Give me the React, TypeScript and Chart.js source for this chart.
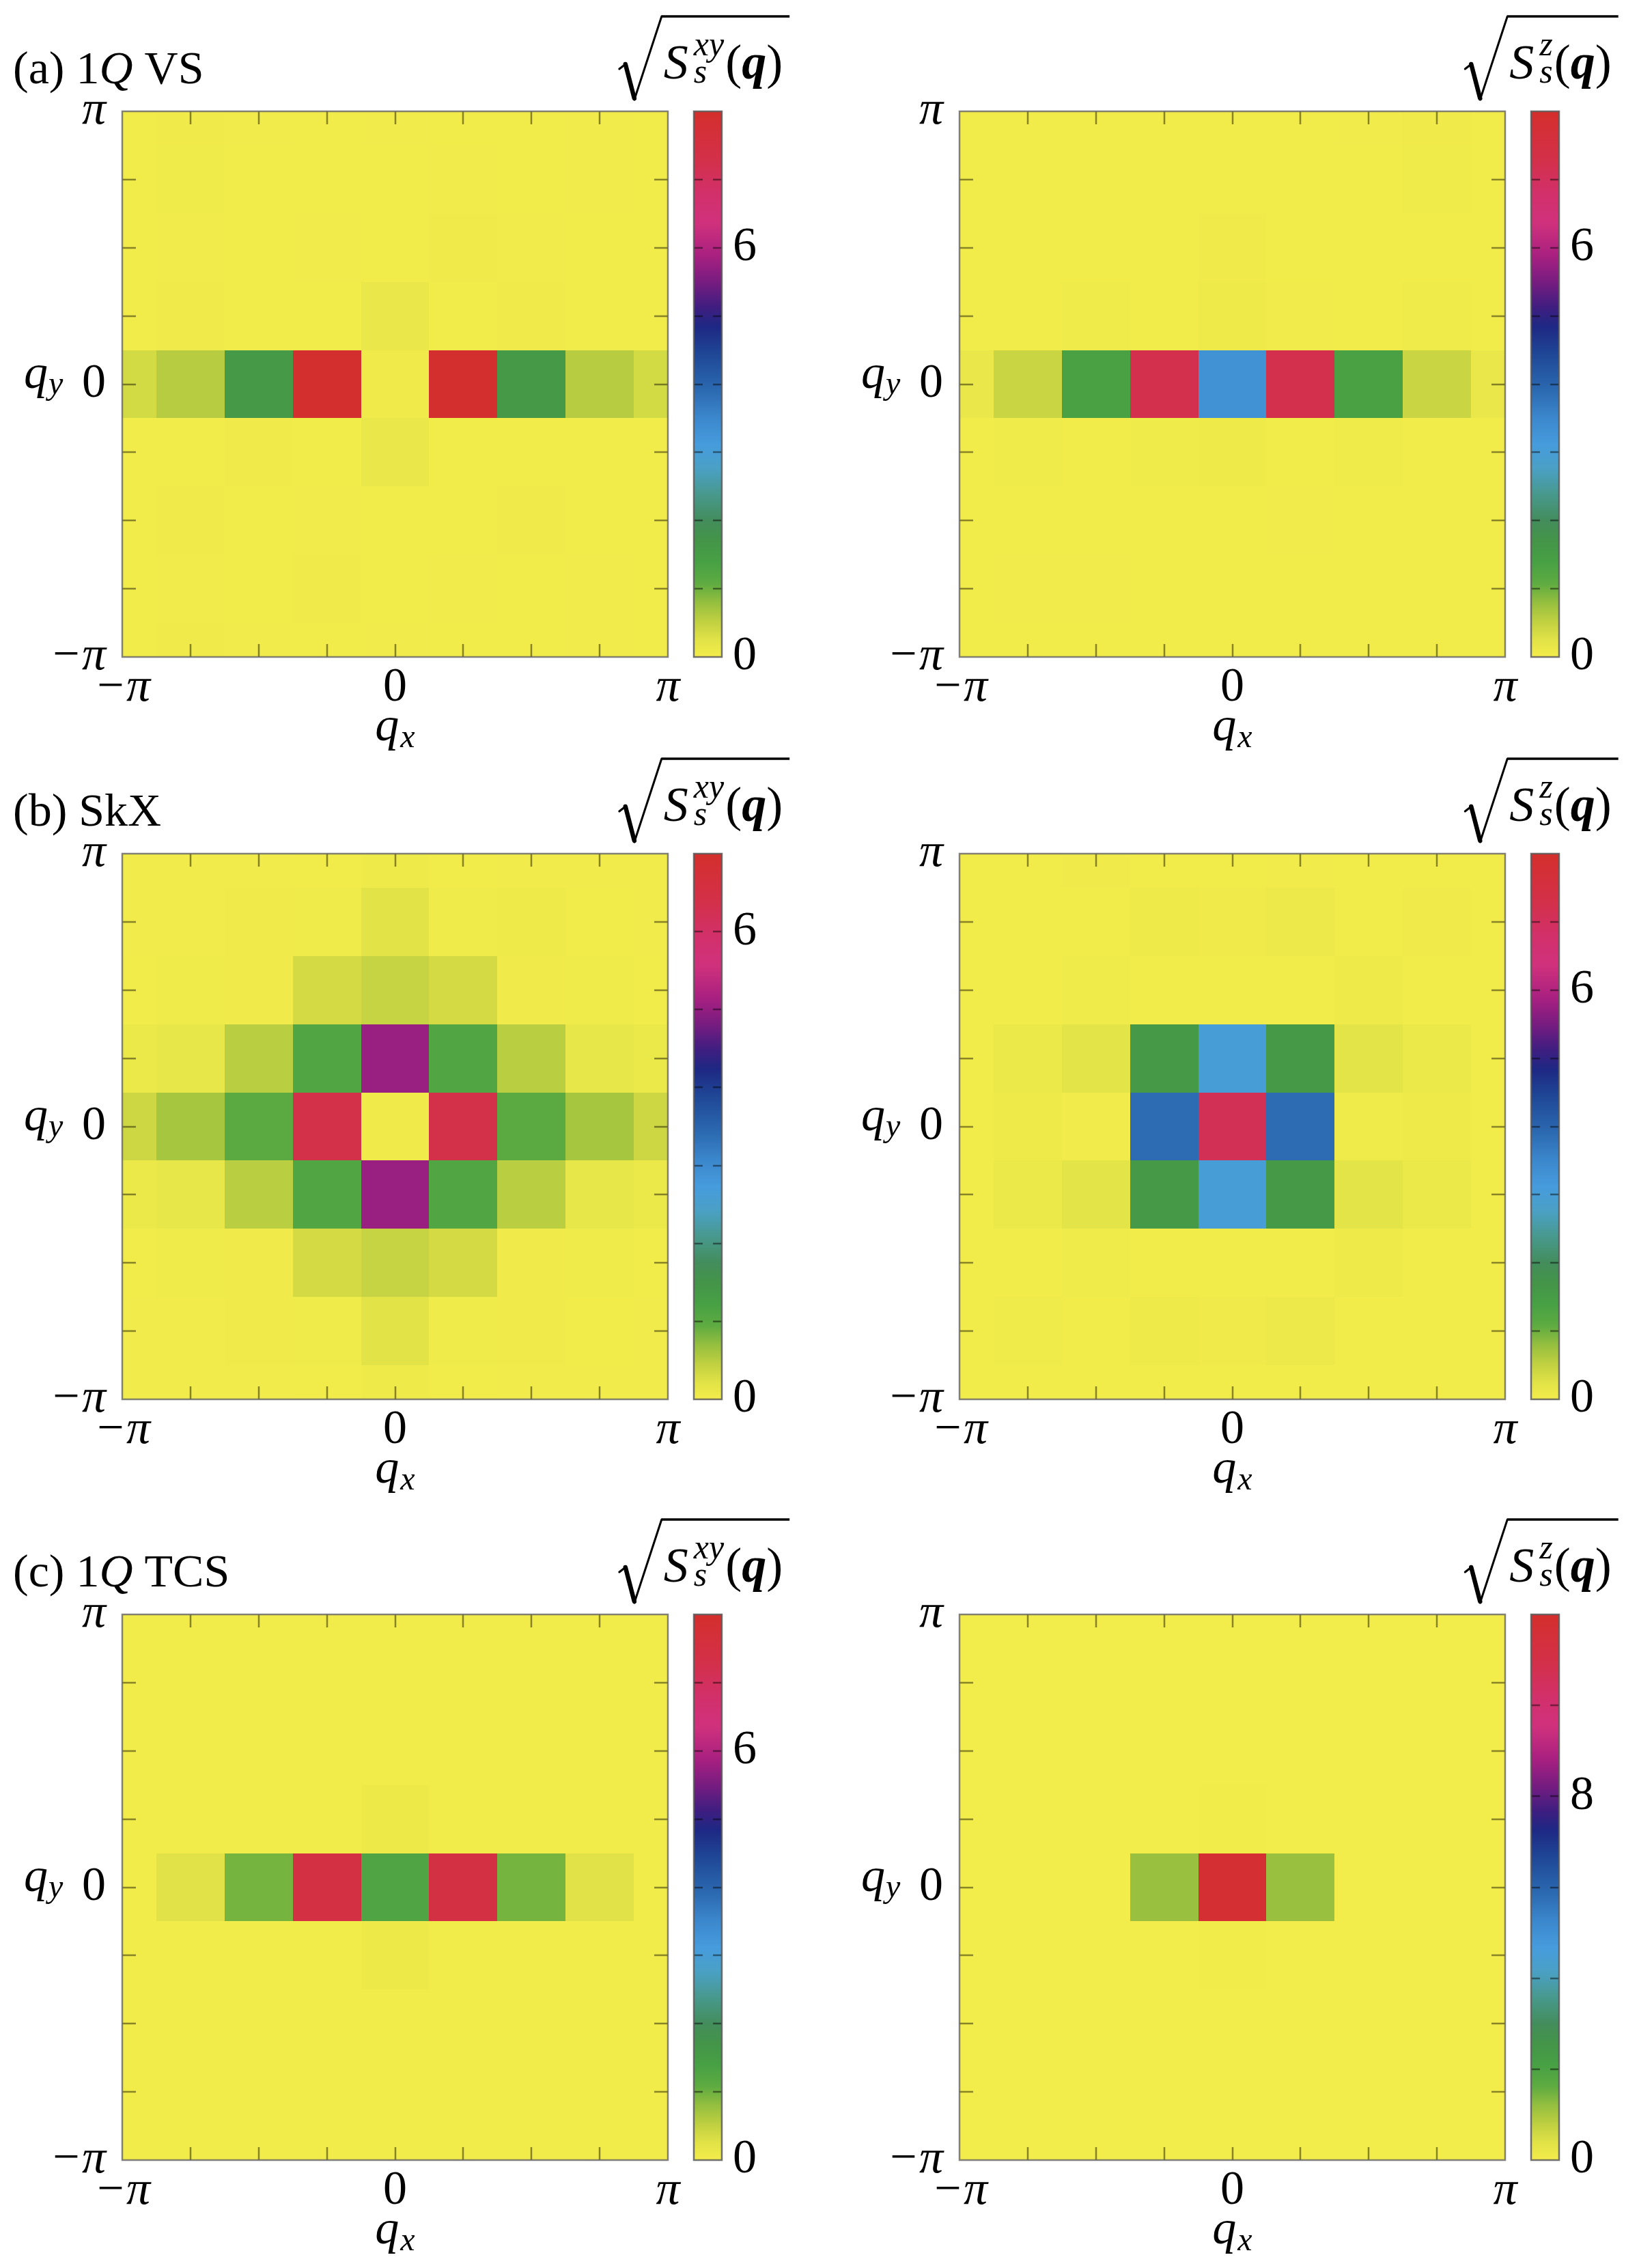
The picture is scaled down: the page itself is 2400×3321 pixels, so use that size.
import React, { useEffect, useRef } from 'react';
import { Chart, registerables } from 'chart.js';

Chart.register(...registerables);

const PI = Math.PI;
const FONT = '"Liberation Serif", "Times New Roman", serif';

// cell centres and tick positions (q = -pi ... pi in steps of pi/4)
const Q_GRID = [-PI, -0.75 * PI, -0.5 * PI, -0.25 * PI, 0, 0.25 * PI, 0.5 * PI, 0.75 * PI, PI];
const Q_TICK_LABELS = ['\u2212\u03c0', '', '', '', '0', '', '', '', '\u03c0'];

// colour map (yellow -> green -> blue -> purple -> red)
const CMAP_POS = [0, 0.03, 0.065, 0.1, 0.135, 0.175, 0.215, 0.25, 0.3, 0.345, 0.39, 0.44, 0.49, 0.555, 0.605, 0.64, 0.685, 0.735, 0.795, 0.85, 0.91, 1];
const CMAP_COL = ['#f3ed4b', '#e2e347', '#c0d041', '#95bf3f', '#5eab41', '#47a044', '#449449', '#438d5c', '#48998f', '#4aa0c4', '#469cdd', '#3b86cc', '#2b69b0', '#1f4796', '#1e2884', '#3e1e80', '#751c80', '#a82080', '#d0317c', '#d2306a', '#d3304a', '#d42f2c'];

// rows: q_y = pi (top) ... -pi (bottom); columns: q_x = -pi ... pi
const VS_XY = [
  [0.02, 0.04, 0.03, 0.02, 0.03, 0.02, 0.02, 0.03, 0.02],
  [0.02, 0.05, 0.02, 0.02, 0.02, 0.03, 0.02, 0.03, 0.02],
  [0.02, 0.03, 0.02, 0.03, 0.02, 0.04, 0.03, 0.02, 0.02],
  [0.02, 0.04, 0.02, 0.02, 0.14, 0.02, 0.04, 0.02, 0.02],
  [0.36, 0.58, 1.56, 7.92, 0.04, 7.92, 1.56, 0.58, 0.36],
  [0.02, 0.02, 0.04, 0.02, 0.14, 0.02, 0.02, 0.02, 0.02],
  [0.02, 0.04, 0.02, 0.03, 0.02, 0.02, 0.04, 0.02, 0.02],
  [0.02, 0.03, 0.02, 0.04, 0.02, 0.03, 0.02, 0.03, 0.02],
  [0.02, 0.04, 0.03, 0.02, 0.03, 0.02, 0.02, 0.03, 0.02],
];
const VS_Z = [
  [0.02, 0.02, 0.02, 0.02, 0.02, 0.02, 0.03, 0.04, 0.02],
  [0.02, 0.02, 0.02, 0.02, 0.02, 0.02, 0.02, 0.05, 0.02],
  [0.02, 0.02, 0.02, 0.02, 0.04, 0.02, 0.02, 0.02, 0.02],
  [0.02, 0.02, 0.05, 0.02, 0.08, 0.03, 0.02, 0.05, 0.02],
  [0.14, 0.44, 1.36, 7.24, 3.3, 7.24, 1.36, 0.44, 0.14],
  [0.02, 0.05, 0.02, 0.05, 0.08, 0.02, 0.05, 0.02, 0.02],
  [0.02, 0.02, 0.02, 0.02, 0.02, 0.03, 0.02, 0.02, 0.02],
  [0.02, 0.03, 0.03, 0.02, 0.02, 0.02, 0.02, 0.02, 0.02],
  [0.02, 0.02, 0.02, 0.02, 0.02, 0.02, 0.02, 0.02, 0.02],
];
const SKX_XY = [
  [0.02, 0.02, 0.02, 0.03, 0.06, 0.03, 0.02, 0.02, 0.02],
  [0.02, 0.02, 0.04, 0.05, 0.21, 0.05, 0.07, 0.03, 0.02],
  [0.03, 0.05, 0.04, 0.32, 0.41, 0.32, 0.04, 0.05, 0.03],
  [0.1, 0.13, 0.49, 1.09, 5.04, 1.09, 0.49, 0.13, 0.1],
  [0.36, 0.6, 0.98, 6.37, 0.04, 6.37, 0.98, 0.6, 0.36],
  [0.1, 0.13, 0.49, 1.09, 5.04, 1.09, 0.49, 0.13, 0.1],
  [0.03, 0.05, 0.04, 0.32, 0.41, 0.32, 0.04, 0.05, 0.03],
  [0.02, 0.02, 0.04, 0.05, 0.21, 0.05, 0.04, 0.03, 0.02],
  [0.02, 0.02, 0.02, 0.03, 0.06, 0.03, 0.02, 0.02, 0.02],
];
const SKX_Z = [
  [0.02, 0.02, 0.04, 0.02, 0.02, 0.03, 0.02, 0.02, 0.02],
  [0.02, 0.02, 0.02, 0.07, 0.04, 0.09, 0.02, 0.04, 0.02],
  [0.02, 0.02, 0.06, 0.02, 0.02, 0.02, 0.08, 0.02, 0.02],
  [0.02, 0.12, 0.22, 1.56, 3.0, 1.56, 0.22, 0.12, 0.02],
  [0.02, 0.07, 0.03, 3.88, 7.12, 3.88, 0.05, 0.08, 0.02],
  [0.02, 0.12, 0.22, 1.56, 3.0, 1.56, 0.22, 0.12, 0.02],
  [0.02, 0.02, 0.06, 0.02, 0.02, 0.02, 0.08, 0.02, 0.02],
  [0.02, 0.05, 0.02, 0.07, 0.04, 0.09, 0.02, 0.02, 0.02],
  [0.02, 0.02, 0.02, 0.02, 0.02, 0.02, 0.02, 0.02, 0.02],
];
const TCS_XY = [
  [0.02, 0.02, 0.02, 0.02, 0.02, 0.02, 0.02, 0.02, 0.02],
  [0.02, 0.02, 0.02, 0.02, 0.02, 0.02, 0.02, 0.02, 0.02],
  [0.02, 0.02, 0.02, 0.02, 0.02, 0.02, 0.02, 0.02, 0.02],
  [0.02, 0.02, 0.02, 0.02, 0.1, 0.02, 0.02, 0.02, 0.02],
  [0.02, 0.26, 0.96, 7.44, 1.28, 7.44, 0.96, 0.26, 0.02],
  [0.02, 0.02, 0.02, 0.02, 0.1, 0.02, 0.02, 0.02, 0.02],
  [0.02, 0.02, 0.02, 0.02, 0.02, 0.02, 0.02, 0.02, 0.02],
  [0.02, 0.02, 0.02, 0.02, 0.02, 0.02, 0.02, 0.02, 0.02],
  [0.02, 0.02, 0.02, 0.02, 0.02, 0.02, 0.02, 0.02, 0.02],
];
const TCS_Z = [
  [0.01, 0.01, 0.01, 0.01, 0.01, 0.01, 0.01, 0.01, 0.01],
  [0.01, 0.01, 0.01, 0.01, 0.01, 0.01, 0.01, 0.01, 0.01],
  [0.01, 0.01, 0.01, 0.01, 0.01, 0.01, 0.01, 0.01, 0.01],
  [0.01, 0.01, 0.01, 0.01, 0.05, 0.01, 0.01, 0.01, 0.01],
  [0.01, 0.01, 0.01, 1.16, 11.76, 1.16, 0.01, 0.01, 0.01],
  [0.01, 0.01, 0.01, 0.01, 0.05, 0.01, 0.01, 0.01, 0.01],
  [0.01, 0.01, 0.01, 0.01, 0.01, 0.01, 0.01, 0.01, 0.01],
  [0.01, 0.01, 0.01, 0.01, 0.01, 0.01, 0.01, 0.01, 0.01],
  [0.01, 0.01, 0.01, 0.01, 0.01, 0.01, 0.01, 0.01, 0.01],
];

// colour-bar ranges and ticks
const CB_MAX = { vsXY: 8, vsZ: 8, skxXY: 7, skxZ: 8, tcsXY: 8, tcsZ: 12 };
const CB_TICKS_8 = [0, 1, 2, 3, 4, 5, 6, 7, 8];
const CB_TICKS_7 = [0, 1, 2, 3, 4, 5, 6, 7];
const CB_TICKS_12 = [0, 2, 4, 6, 8, 10, 12];
const CB_LABELED_6 = [0, 6];
const CB_LABELED_8 = [0, 8];

// titles
type Part = { t: string; it?: boolean; bold?: boolean };
const TITLE_A: Part[] = [{ t: '(a) 1' }, { t: 'Q', it: true }, { t: ' VS' }];
const TITLE_B: Part[] = [{ t: '(b) SkX' }];
const TITLE_C: Part[] = [{ t: '(c) 1' }, { t: 'Q', it: true }, { t: ' TCS' }];

// ---------------------------------------------------------------------------
function hexRgb(h: string) {
  return [parseInt(h.slice(1, 3), 16), parseInt(h.slice(3, 5), 16), parseInt(h.slice(5, 7), 16)];
}
function cmap(t: number) {
  const tt = Math.max(0, Math.min(1, t));
  let i = 0;
  while (i < CMAP_POS.length - 2 && tt > CMAP_POS[i + 1]) i++;
  const f = (tt - CMAP_POS[i]) / (CMAP_POS[i + 1] - CMAP_POS[i]);
  const a = hexRgb(CMAP_COL[i]);
  const b = hexRgb(CMAP_COL[i + 1]);
  const c = a.map((v, k) => Math.round(v + (b[k] - v) * f));
  return `rgb(${c[0]},${c[1]},${c[2]})`;
}

function fontStr(size: number, it?: boolean, bold?: boolean) {
  return `${it ? 'italic ' : ''}${bold ? 'bold ' : ''}${size}px ${FONT}`;
}

function drawParts(ctx: CanvasRenderingContext2D, parts: Part[], x: number, y: number, size: number) {
  let cx = x;
  ctx.textBaseline = 'alphabetic';
  ctx.textAlign = 'left';
  for (const p of parts) {
    ctx.font = fontStr(size, p.it, p.bold);
    ctx.fillText(p.t, cx, y);
    cx += ctx.measureText(p.t).width;
  }
  return cx;
}

function line(ctx: CanvasRenderingContext2D, x0: number, y0: number, x1: number, y1: number) {
  ctx.beginPath();
  ctx.moveTo(x0, y0);
  ctx.lineTo(x1, y1);
  ctx.stroke();
}

// ---------------------------------------------------------------------------
type HeatProps = {
  left: number;
  top: number;
  width: number;
  height: number;
  padTop: number;
  padRight: number;
  yAxisW: number;
  xAxisH: number;
  grid: number[][];
  max: number;
  title?: Part[];
};

function makeHeatChart(canvas: HTMLCanvasElement, p: HeatProps) {
  const cells: { x: number; y: number; v: number }[] = [];
  p.grid.forEach((row, ri) =>
    row.forEach((v, ci) => cells.push({ x: Q_GRID[ci], y: Q_GRID[Q_GRID.length - 1 - ri], v }))
  );
  const half = PI / 8;
  const tickFont = (c: any) => ({
    family: FONT,
    size: 70,
    style: c && c.tick && Math.abs(c.tick.value) > 1 ? 'italic' : 'normal',
  });

  const plugin = {
    id: 'heat',
    beforeDatasetsDraw(chart: any) {
      const { ctx, chartArea: a, scales } = chart;
      const xs = scales.x;
      const ys = scales.y;
      ctx.save();
      ctx.beginPath();
      ctx.rect(a.left, a.top, a.right - a.left, a.bottom - a.top);
      ctx.clip();
      for (const c of chart.data.datasets[0].data) {
        const x0 = Math.round(xs.getPixelForValue(c.x - half));
        const x1 = Math.round(xs.getPixelForValue(c.x + half));
        const y0 = Math.round(ys.getPixelForValue(c.y + half));
        const y1 = Math.round(ys.getPixelForValue(c.y - half));
        ctx.fillStyle = cmap(c.v / p.max);
        ctx.fillRect(x0, y0, x1 - x0, y1 - y0);
      }
      ctx.restore();
    },
    afterDatasetsDraw(chart: any) {
      const { ctx, chartArea: a, scales } = chart;
      const xs = scales.x;
      const ys = scales.y;
      ctx.save();
      ctx.strokeStyle = 'rgba(30,25,0,0.5)';
      ctx.lineWidth = 2.5;
      for (let i = 1; i < Q_GRID.length - 1; i++) {
        const px = Math.round(xs.getPixelForValue(Q_GRID[i]));
        line(ctx, px, a.bottom, px, a.bottom - 19);
        line(ctx, px, a.top, px, a.top + 19);
        const py = Math.round(ys.getPixelForValue(Q_GRID[i]));
        line(ctx, a.left, py, a.left + 20, py);
        line(ctx, a.right, py, a.right - 20, py);
      }
      ctx.strokeStyle = 'rgba(100,100,100,0.8)';
      ctx.lineWidth = 2.5;
      ctx.strokeRect(a.left, a.top, a.right - a.left, a.bottom - a.top);
      ctx.restore();
    },
    afterDraw(chart: any) {
      const { ctx, chartArea: a } = chart;
      ctx.save();
      ctx.fillStyle = '#000';
      // q_x
      ctx.font = fontStr(70, true);
      const wq = ctx.measureText('q').width;
      ctx.font = fontStr(48, true);
      const wx = ctx.measureText('x').width;
      const cx = (a.left + a.right) / 2 - (wq + wx + 2) / 2;
      drawParts(ctx, [{ t: 'q', it: true }], cx, a.bottom + 122, 70);
      drawParts(ctx, [{ t: 'x', it: true }], cx + wq + 2, a.bottom + 132, 48);
      // q_y
      const cy = (a.top + a.bottom) / 2;
      const qx = a.left - 144;
      drawParts(ctx, [{ t: 'q', it: true }], qx, cy + 5, 70);
      drawParts(ctx, [{ t: 'y', it: true }], qx + wq + 1, cy + 14, 48);
      // panel title
      if (p.title) drawParts(ctx, p.title, 19, a.top - 41, 68);
      ctx.restore();
    },
  };

  return new Chart(canvas, {
    type: 'scatter',
    data: { datasets: [{ data: cells as any, pointRadius: 0, pointHoverRadius: 0 }] },
    options: {
      responsive: false,
      animation: false,
      devicePixelRatio: 1,
      events: [],
      layout: { autoPadding: false, padding: { left: 0, top: p.padTop, right: p.padRight, bottom: 0 } } as any,
      plugins: { legend: { display: false }, tooltip: { enabled: false } },
      scales: {
        x: {
          type: 'linear',
          position: 'bottom',
          min: -PI,
          max: PI,
          grid: { display: false, drawTicks: false, tickLength: 0 },
          border: { display: false },
          afterBuildTicks: (s: any) => {
            s.ticks = Q_GRID.map((v) => ({ value: v }));
          },
          afterFit: (s: any) => {
            s.height = p.xAxisH;
          },
          ticks: {
            autoSkip: false,
            maxRotation: 0,
            minRotation: 0,
            padding: 4,
            color: '#000',
            font: tickFont as any,
            callback: (_v: any, i: number) => Q_TICK_LABELS[i],
          },
        },
        y: {
          type: 'linear',
          position: 'left',
          min: -PI,
          max: PI,
          grid: { display: false, drawTicks: false, tickLength: 0 },
          border: { display: false },
          afterBuildTicks: (s: any) => {
            s.ticks = Q_GRID.map((v) => ({ value: v }));
          },
          afterFit: (s: any) => {
            s.width = p.yAxisW;
          },
          ticks: {
            autoSkip: false,
            padding: 24,
            color: '#000',
            font: tickFont as any,
            callback: (_v: any, i: number) => Q_TICK_LABELS[i],
          },
        },
      },
    },
    plugins: [plugin as any],
  });
}

type CbProps = {
  left: number;
  top: number;
  width: number;
  height: number;
  padLeft: number;
  padTop: number;
  padBottom: number;
  axisW: number;
  max: number;
  ticks: number[];
  labeled: number[];
  sup: string;
};

function makeColorbar(canvas: HTMLCanvasElement, p: CbProps) {
  const plugin = {
    id: 'cbar',
    afterDatasetsDraw(chart: any) {
      const { ctx, chartArea: a, scales } = chart;
      const ys = scales.y;
      ctx.save();
      ctx.strokeStyle = 'rgba(0,0,0,0.45)';
      ctx.lineWidth = 2.5;
      for (const v of p.ticks) {
        if (v === 0 || v === p.max) continue;
        const py = Math.round(ys.getPixelForValue(v));
        line(ctx, a.left, py, a.left + 13, py);
        line(ctx, a.right - 13, py, a.right, py);
      }
      ctx.strokeStyle = 'rgba(90,90,90,0.85)';
      ctx.lineWidth = 2.5;
      ctx.strokeRect(a.left, a.top, a.right - a.left, a.bottom - a.top);
      ctx.restore();
    },
    afterDraw(chart: any) {
      const { ctx, chartArea: a } = chart;
      ctx.save();
      ctx.fillStyle = '#000';
      ctx.strokeStyle = '#000';
      const barY = a.top - 139;
      // measure label
      ctx.font = fontStr(72, true);
      const wS = ctx.measureText('S').width;
      ctx.font = fontStr(50, true);
      const wSup = ctx.measureText(p.sup).width;
      const wSub = ctx.measureText('s').width;
      ctx.font = fontStr(72);
      const wP = ctx.measureText('(').width;
      ctx.font = fontStr(72, true, true);
      const wq = ctx.measureText('q').width;
      const textW = wS + 8 + Math.max(wSup, wSub) + 2 + wP + wq + wP;
      const total = 65 + textW + 10;
      const x0 = (a.left + a.right) / 2 - 5 - total / 2;
      // radical sign
      ctx.lineCap = 'round';
      ctx.lineJoin = 'round';
      ctx.lineWidth = 3;
      line(ctx, x0, barY + 77, x0 + 9, barY + 70);
      ctx.lineWidth = 6.5;
      line(ctx, x0 + 9, barY + 70, x0 + 22, barY + 120);
      ctx.lineWidth = 3;
      line(ctx, x0 + 22, barY + 122, x0 + 62, barY);
      ctx.lineCap = 'butt';
      ctx.lineWidth = 3.5;
      line(ctx, x0 + 62, barY, x0 + total, barY);
      // S_s^{..}(q)
      let cx = x0 + 65;
      drawParts(ctx, [{ t: 'S', it: true }], cx, barY + 91, 72);
      cx += wS + 8;
      drawParts(ctx, [{ t: p.sup, it: true }], cx, barY + 57, 50);
      drawParts(ctx, [{ t: 's', it: true }], cx, barY + 97, 50);
      cx += Math.max(wSup, wSub) + 2;
      cx = drawParts(ctx, [{ t: '(' }], cx, barY + 91, 72);
      cx = drawParts(ctx, [{ t: 'q', it: true, bold: true }], cx, barY + 91, 72);
      drawParts(ctx, [{ t: ')' }], cx, barY + 91, 72);
      ctx.restore();
    },
  };

  return new Chart(canvas, {
    type: 'bar',
    data: {
      labels: [''],
      datasets: [
        {
          data: [[0, p.max]] as any,
          borderWidth: 0,
          barPercentage: 1,
          categoryPercentage: 1,
          backgroundColor: (c: any) => {
            const ca = c.chart.chartArea;
            if (!ca) return CMAP_COL[0];
            const g = c.chart.ctx.createLinearGradient(0, ca.bottom, 0, ca.top);
            CMAP_POS.forEach((pos, i) => g.addColorStop(pos, CMAP_COL[i]));
            return g;
          },
        },
      ],
    },
    options: {
      responsive: false,
      animation: false,
      devicePixelRatio: 1,
      events: [],
      layout: { autoPadding: false, padding: { left: p.padLeft, top: p.padTop, right: 0, bottom: p.padBottom } } as any,
      plugins: { legend: { display: false }, tooltip: { enabled: false } },
      scales: {
        x: { display: false },
        y: {
          type: 'linear',
          position: 'right',
          min: 0,
          max: p.max,
          grid: { display: false, drawTicks: false, tickLength: 0 },
          border: { display: false },
          afterBuildTicks: (s: any) => {
            s.ticks = p.ticks.map((v) => ({ value: v }));
          },
          afterFit: (s: any) => {
            s.width = p.axisW;
          },
          ticks: {
            autoSkip: false,
            padding: 16,
            color: '#000',
            font: { family: FONT, size: 70 },
            callback: (v: any) => (p.labeled.indexOf(Number(v)) >= 0 ? String(v) : ''),
          },
        },
      },
    },
    plugins: [plugin as any],
  });
}

function Canvas({ left, top, width, height, build }: { left: number; top: number; width: number; height: number; build: (c: HTMLCanvasElement) => Chart }) {
  const ref = useRef<HTMLCanvasElement>(null);
  useEffect(() => {
    const chart = build(ref.current as HTMLCanvasElement);
    return () => chart.destroy();
  }, []);
  return (
    <canvas
      ref={ref}
      width={width}
      height={height}
      style={{ position: 'absolute', left, top, width, height, display: 'block' }}
    />
  );
}

// ---------------------------------------------------------------------------
const PLOT = 799;
const ROW_PLOT_TOPS = [163, 1250, 2364];
const COL_PLOT_LEFTS = [179, 1405];

type PanelDef = { grid: number[][]; max: number; ticks: number[]; labeled: number[]; sup: string; title?: Part[] };
const PANELS: PanelDef[][] = [
  [
    { grid: VS_XY, max: CB_MAX.vsXY, ticks: CB_TICKS_8, labeled: CB_LABELED_6, sup: 'xy', title: TITLE_A },
    { grid: VS_Z, max: CB_MAX.vsZ, ticks: CB_TICKS_8, labeled: CB_LABELED_6, sup: 'z' },
  ],
  [
    { grid: SKX_XY, max: CB_MAX.skxXY, ticks: CB_TICKS_7, labeled: CB_LABELED_6, sup: 'xy', title: TITLE_B },
    { grid: SKX_Z, max: CB_MAX.skxZ, ticks: CB_TICKS_8, labeled: CB_LABELED_6, sup: 'z' },
  ],
  [
    { grid: TCS_XY, max: CB_MAX.tcsXY, ticks: CB_TICKS_8, labeled: CB_LABELED_6, sup: 'xy', title: TITLE_C },
    { grid: TCS_Z, max: CB_MAX.tcsZ, ticks: CB_TICKS_12, labeled: CB_LABELED_8, sup: 'z' },
  ],
];

export default function App() {
  const items: React.ReactNode[] = [];
  PANELS.forEach((row, ri) => {
    const plotTop = ROW_PLOT_TOPS[ri];
    const canvasTop = plotTop - 163;
    row.forEach((pd, ci) => {
      const plotLeft = COL_PLOT_LEFTS[ci];
      const heatLeft = ci === 0 ? 0 : 1220;
      const yAxisW = plotLeft - heatLeft;
      const heatW = yAxisW + PLOT + 22;
      const heatH = 163 + PLOT + 150;
      const hp: HeatProps = {
        left: heatLeft,
        top: canvasTop,
        width: heatW,
        height: heatH,
        padTop: 163,
        padRight: 22,
        yAxisW,
        xAxisH: 150,
        grid: pd.grid,
        max: pd.max,
        title: pd.title,
      };
      items.push(
        <Canvas key={`h${ri}${ci}`} left={heatLeft} top={canvasTop} width={heatW} height={heatH} build={(c) => makeHeatChart(c, hp)} />
      );
      const cbLeft = plotLeft + PLOT + 38;
      const cbCanvasLeft = cbLeft - 140;
      const cbW = Math.min(330, 2400 - cbCanvasLeft);
      const cbH = 163 + PLOT + 70;
      const cp: CbProps = {
        left: cbCanvasLeft,
        top: canvasTop,
        width: cbW,
        height: cbH,
        padLeft: 140,
        padTop: 163,
        padBottom: 70,
        axisW: cbW - 140 - 41,
        max: pd.max,
        ticks: pd.ticks,
        labeled: pd.labeled,
        sup: pd.sup,
      };
      items.push(
        <Canvas key={`c${ri}${ci}`} left={cbCanvasLeft} top={canvasTop} width={cbW} height={cbH} build={(c) => makeColorbar(c, cp)} />
      );
    });
  });
  return (
    <div style={{ position: 'absolute', left: 0, top: 0, width: 2400, height: 3321, background: '#fff', overflow: 'hidden' }}>
      {items}
    </div>
  );
}
